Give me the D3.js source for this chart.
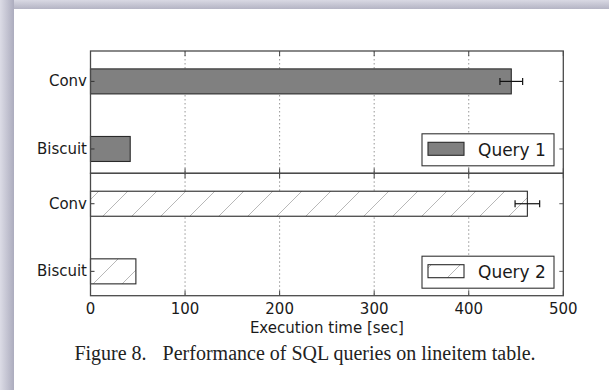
<!DOCTYPE html>
<html><head><meta charset="utf-8">
<script src="https://cdn.jsdelivr.net/npm/d3@7"></script>
<style>body{margin:0;background:#fff}svg{display:block}</style>
</head><body>
<script>
// ---- data ----
const categories = ["Conv", "Biscuit"];
const seriesNames = ["Query 1", "Query 2"];
const query1 = [445, 42];
const query1Err = [12, 0];
const query2 = [462, 48];
const query2Err = [13, 0];
const xTicks = [0, 100, 200, 300, 400, 500];
const xLabel = "Execution time [sec]";
const caption1 = "Figure 8.";
const caption2 = "Performance of SQL queries on lineitem table.";

(function () {
const W = 609, H = 390;
const svg = d3.select("body").append("svg").attr("width", W).attr("height", H);
const defs = svg.append("defs");

const gTop = defs.append("linearGradient").attr("id","gTop").attr("x1",0).attr("y1",0).attr("x2",0).attr("y2",1);
gTop.append("stop").attr("offset","0%").attr("stop-color","#d9d9e3");
gTop.append("stop").attr("offset","100%").attr("stop-color","#b4b4c4");
const gLeft = defs.append("linearGradient").attr("id","gLeft").attr("x1",0).attr("y1",0).attr("x2",1).attr("y2",0);
gLeft.append("stop").attr("offset","0%").attr("stop-color","#dcdce6");
gLeft.append("stop").attr("offset","100%").attr("stop-color","#acacbe");
svg.append("rect").attr("x",0).attr("y",0).attr("width",W).attr("height",H).attr("fill","#fff");
svg.append("rect").attr("x",0).attr("y",0).attr("width",W).attr("height",9).attr("fill","url(#gTop)");
svg.append("rect").attr("x",0).attr("y",0).attr("width",14).attr("height",H).attr("fill","url(#gLeft)");

const pat = defs.append("pattern").attr("id","hatch").attr("patternUnits","userSpaceOnUse")
  .attr("width",29).attr("height",29);
pat.append("path").attr("d","M0,29L29,0M-2,2L2,-2M27,31L31,27")
  .attr("stroke","#b0b0b0").attr("stroke-width",0.9).attr("fill","none");

const pLeft = 90.5, pRight = 563.3, pTop = 51, pMid = 173.3, pBottom = 295.7;
const x = d3.scaleLinear().domain([0, 500]).range([pLeft, pRight]);
const font = "'DejaVu Sans', sans-serif";

const panels = [
  {y0: pTop, y1: pMid, vals: query1, errs: query1Err, fill: "#808080", hatch: false, name: seriesNames[0]},
  {y0: pMid, y1: pBottom, vals: query2, errs: query2Err, fill: "#ffffff", hatch: true, name: seriesNames[1]}
];

panels.forEach((p) => {
  const y = d3.scaleLinear().domain([-0.36, 1.45]).range([p.y1, p.y0]);
  const pos = {"Conv": 1, "Biscuit": 0};
  const bh = y(0) - y(0.37);
  const g = svg.append("g");
  g.selectAll(".grid").data(xTicks.slice(1, -1)).enter().append("line")
    .attr("x1", d => x(d)).attr("x2", d => x(d)).attr("y1", p.y0).attr("y2", p.y1)
    .attr("stroke", "#8a8a8a").attr("stroke-width", 0.9).attr("stroke-dasharray", "1.5,2.5");
  categories.forEach((c, i) => {
    const cy = y(pos[c]);
    const bw = x(p.vals[i]) - x(0);
    g.append("rect").attr("x", x(0)).attr("y", cy - bh/2).attr("width", bw).attr("height", bh)
      .attr("fill", p.fill).attr("stroke", "none");
    if (p.hatch) g.append("rect").attr("x", x(0)).attr("y", cy - bh/2).attr("width", bw).attr("height", bh)
      .attr("fill", "url(#hatch)");
    g.append("rect").attr("x", x(0)).attr("y", cy - bh/2).attr("width", bw).attr("height", bh)
      .attr("fill", "none").attr("stroke", "#2a2a2a").attr("stroke-width", 1.1);
    if (p.errs[i] > 0) {
      const e0 = x(p.vals[i] - p.errs[i]), e1 = x(p.vals[i] + p.errs[i]);
      g.append("line").attr("x1", e0).attr("x2", e1).attr("y1", cy).attr("y2", cy).attr("stroke", "#111").attr("stroke-width", 1.2);
      [e0, e1].forEach(ex => g.append("line").attr("x1", ex).attr("x2", ex).attr("y1", cy - 3.5).attr("y2", cy + 3.5)
        .attr("stroke", "#111").attr("stroke-width", 1.2));
    }
    svg.append("text").attr("x", pLeft - 3.5).attr("y", cy).attr("text-anchor", "end").attr("dominant-baseline", "central")
      .attr("font-family", font).attr("font-size", 15).attr("fill", "#1a1a1a").text(c);
    g.append("line").attr("x1", pLeft).attr("x2", pLeft + 4).attr("y1", cy).attr("y2", cy).attr("stroke", "#333");
    g.append("line").attr("x1", pRight - 4).attr("x2", pRight).attr("y1", cy).attr("y2", cy).attr("stroke", "#555");
  });
  xTicks.forEach(t => {
    g.append("line").attr("x1", x(t)).attr("x2", x(t)).attr("y1", p.y0).attr("y2", p.y0 + 5).attr("stroke", "#444").attr("stroke-width", 1);
    g.append("line").attr("x1", x(t)).attr("x2", x(t)).attr("y1", p.y1).attr("y2", p.y1 - 5).attr("stroke", "#444").attr("stroke-width", 1);
  });
  g.append("rect").attr("x", pLeft).attr("y", p.y0).attr("width", pRight - pLeft).attr("height", p.y1 - p.y0)
    .attr("fill", "none").attr("stroke", "#4a4a4a").attr("stroke-width", 1.3);
  const lx = 422, lw = 132, lh = 32, ly = p.y1 - 7.5 - lh;
  const lg = svg.append("g");
  lg.append("rect").attr("x", lx).attr("y", ly).attr("width", lw).attr("height", lh)
    .attr("fill", "#fff").attr("stroke", "#333").attr("stroke-width", 1.1);
  const px = lx + 6, py = ly + 8.5, pw = 36, ph = 13;
  lg.append("rect").attr("x", px).attr("y", py).attr("width", pw).attr("height", ph).attr("fill", p.fill);
  if (p.hatch) lg.append("rect").attr("x", px).attr("y", py).attr("width", pw).attr("height", ph).attr("fill", "url(#hatch)");
  lg.append("rect").attr("x", px).attr("y", py).attr("width", pw).attr("height", ph).attr("fill", "none")
    .attr("stroke", "#2a2a2a").attr("stroke-width", 1.1);
  lg.append("text").attr("x", lx + 56).attr("y", ly + lh/2).attr("dominant-baseline", "central")
    .attr("font-family", font).attr("font-size", 17).attr("fill", "#1a1a1a").text(p.name);
});

svg.append("g").selectAll("text").data(xTicks).enter().append("text")
  .attr("x", d => x(d)).attr("y", 313.5).attr("text-anchor", "middle")
  .attr("font-family", font).attr("font-size", 15).attr("fill", "#1a1a1a").text(d => d);
svg.append("text").attr("x", (pLeft + pRight) / 2).attr("y", 332.5).attr("text-anchor", "middle")
  .attr("font-family", font).attr("font-size", 15).attr("fill", "#1a1a1a").text(xLabel);

const cap = svg.append("text").attr("x", 305).attr("y", 360).attr("text-anchor", "middle")
  .attr("font-family", "'Liberation Serif', 'Times New Roman', serif").attr("font-size", 20).attr("fill", "#222");
cap.append("tspan").text(caption1);
cap.append("tspan").attr("dx", 16).text(caption2);
})();
</script>
</body></html>
